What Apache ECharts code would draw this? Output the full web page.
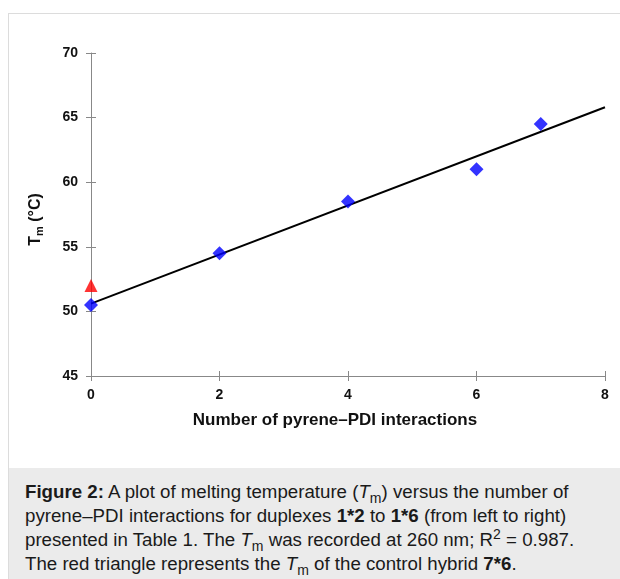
<!DOCTYPE html>
<html>
<head>
<meta charset="utf-8">
<script src="https://cdn.jsdelivr.net/npm/echarts@6/dist/echarts.min.js"></script>
<style>
  html, body { margin:0; padding:0; background:#fff; }
  #wrap { position:relative; width:620px; height:579px; overflow:hidden; }
  #frame { position:absolute; left:8px; top:13px; width:700px; height:700px; border:1px solid #dcdcdc; box-sizing:border-box; }
  #cap { position:absolute; left:9px; top:468px; width:700px; height:200px; background:#ebebeb; }
  #captext { position:absolute; left:25px; top:480px; width:640px; white-space:nowrap; font-family:"Liberation Sans", Arial, sans-serif; font-size:18.7px; line-height:24px; color:#1a1a1a; }
  #captext sub, #captext sup { font-size:14px; line-height:0; }
  #chart { position:absolute; left:0; top:0; width:620px; height:468px; }
</style>
</head>
<body>
<div id="wrap">
  <div id="frame"></div>
  <div id="cap"></div>
  <div id="captext"><b>Figure 2:</b> A plot of melting temperature (<i>T</i><sub>m</sub>) versus the number of<br>pyrene–PDI interactions for duplexes <b>1*2</b> to <b>1*6</b> (from left to right)<br>presented in Table 1. The <i>T</i><sub>m</sub> was recorded at 260 nm; R<sup>2</sup> = 0.987.<br>The red triangle represents the <i>T</i><sub>m</sub> of the control hybrid <b>7*6</b>.</div>
  <div id="chart"></div>
</div>
<script>
// Data
var interactions = [0, 2, 4, 6, 7];
var tmValues = [50.5, 54.5, 58.5, 61.0, 64.5];
var controlX = [0];
var controlTm = [52.0];
var fitX = [0, 8];
var fitY = [50.6, 65.8];
var xTicks = [0, 2, 4, 6, 8];
var yTicks = [45, 50, 55, 60, 65, 70];

var FONT = '"Liberation Sans", Arial, sans-serif';
var axisGrey = '#888888';

function zip(a, b) { return a.map(function (v, i) { return [v, b[i]]; }); }

var chart = echarts.init(document.getElementById('chart'));
var baseX = {
  type: 'value', min: xTicks[0], max: xTicks[xTicks.length - 1], interval: 2,
  splitLine: { show: false }
};
var baseY = {
  type: 'value', min: yTicks[0], max: yTicks[yTicks.length - 1], interval: 5,
  splitLine: { show: false }
};
chart.setOption({
  animation: false,
  grid: { left: 91, right: 15, top: 53, bottom: 92, containLabel: false },
  xAxis: [
    Object.assign({}, baseX, {
      position: 'bottom',
      axisLine: { show: true, lineStyle: { color: axisGrey, width: 1 } },
      axisTick: { show: true, inside: false, length: 5, lineStyle: { color: axisGrey } },
      axisLabel: { margin: 12, fontFamily: FONT, fontWeight: 'bold', fontSize: 14, color: '#111' },
      name: 'Number of pyrene–PDI interactions',
      nameLocation: 'middle', nameGap: 36,
      nameTextStyle: { fontFamily: FONT, fontWeight: 'bold', fontSize: 17, color: '#111', padding: [0, 26, 0, 0] }
    }),
    Object.assign({}, baseX, {
      position: 'bottom',
      axisLine: { show: false },
      axisTick: { show: true, inside: true, length: 5, lineStyle: { color: axisGrey } },
      axisLabel: { show: false }
    })
  ],
  yAxis: [
    Object.assign({}, baseY, {
      position: 'left',
      axisLine: { show: true, lineStyle: { color: axisGrey, width: 1 } },
      axisTick: { show: true, inside: false, length: 5, lineStyle: { color: axisGrey } },
      axisLabel: { margin: 13, fontFamily: FONT, fontWeight: 'bold', fontSize: 14, color: '#111' },
      name: '{a|T}{s|m}{a| (°C)}',
      nameLocation: 'middle', nameGap: 46, nameRotate: 90,
      nameTextStyle: {
        padding: [0, 10, 0, 0],
        rich: {
          a: { fontFamily: FONT, fontWeight: 'bold', fontSize: 16, color: '#111' },
          s: { fontFamily: FONT, fontWeight: 'bold', fontSize: 11, color: '#111', padding: [8, 0, 0, 0] }
        }
      }
    }),
    Object.assign({}, baseY, {
      position: 'left',
      axisLine: { show: false },
      axisTick: { show: true, inside: true, length: 5, lineStyle: { color: axisGrey } },
      axisLabel: { show: false }
    })
  ],
  series: [
    {
      type: 'line', data: zip(fitX, fitY), showSymbol: false, symbol: 'none',
      lineStyle: { color: '#000', width: 2 }, z: 2, silent: true
    },
    {
      type: 'scatter', data: zip(interactions, tmValues), symbol: 'diamond', symbolSize: 14,
      itemStyle: { color: '#0000ff' }, z: 3
    },
    {
      type: 'scatter', data: zip(controlX, controlTm), symbol: 'triangle', symbolSize: 13,
      itemStyle: { color: '#ff0000' }, z: 3
    }
  ]
});
</script>
</body>
</html>
